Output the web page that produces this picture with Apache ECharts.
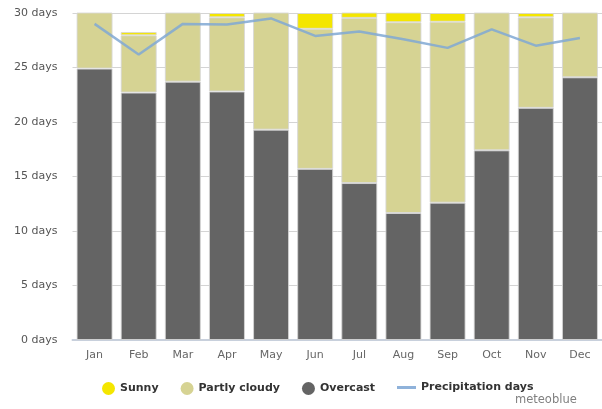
<!DOCTYPE html>
<html>
<head>
<meta charset="utf-8">
<script src="https://cdn.jsdelivr.net/npm/echarts@6/dist/echarts.min.js"></script>
<style>
  html, body { margin: 0; padding: 0; background: #fff; }
  #chart { width: 602px; height: 409px; }
</style>
</head>
<body>
<div id="chart"></div>
<script>
var months = ['Jan', 'Feb', 'Mar', 'Apr', 'May', 'Jun', 'Jul', 'Aug', 'Sep', 'Oct', 'Nov', 'Dec'];
var overcast = [24.9, 22.7, 23.7, 22.8, 19.3, 15.7, 14.4, 11.65, 12.6, 17.4, 21.3, 24.1];
var partlyCloudy = [6.0, 5.25, 7.2, 6.8, 11.6, 12.85, 15.15, 17.5, 16.6, 13.5, 8.3, 6.8];
var sunny = [0.1, 0.3, 0.1, 0.4, 0.1, 1.45, 1.45, 1.85, 0.8, 0.1, 0.4, 0.1];
var precipitation = [29.0, 26.2, 29.0, 28.95, 29.5, 27.9, 28.3, 27.6, 26.8, 28.5, 27.0, 27.7];
var yTicks = [0, 5, 10, 15, 20, 25, 30];

var chart = echarts.init(document.getElementById('chart'));

var font = 'DejaVu Sans';
var barBorder = { borderColor: 'rgba(215,215,215,0.85)', borderWidth: 1 };
var legendText = { fontFamily: font, fontSize: 11, fontWeight: 'bold', color: '#333' };

var option = {
  animation: false,
  textStyle: { fontFamily: font },
  grid: { left: 72.5, right: -11.5, top: 13, bottom: 69 },
  title: {
    text: 'meteoblue',
    left: 515,
    top: 394,
    padding: 0,
    textStyle: { fontFamily: font, fontSize: 11.5, fontWeight: 'normal', color: '#808080' }
  },
  legend: [{
    data: [
      { name: 'Sunny', icon: 'circle' },
      { name: 'Partly cloudy', icon: 'circle' },
      { name: 'Overcast', icon: 'circle' }
    ],
    left: 102,
    top: 382,
    padding: 0,
    itemWidth: 13,
    itemHeight: 13,
    itemGap: 22,
    itemStyle: { borderWidth: 0 },
    textStyle: legendText
  }, {
    data: [{ name: 'Precipitation days', icon: 'rect' }],
    left: 397,
    top: 382,
    padding: 0,
    itemWidth: 19,
    itemHeight: 3,
    itemStyle: { borderWidth: 0 },
    textStyle: legendText
  }],
  xAxis: {
    type: 'category',
    data: months,
    axisTick: { show: false },
    axisLine: { lineStyle: { color: '#c8d0dc', width: 2 } },
    axisLabel: { color: '#666', fontSize: 11, margin: 10 }
  },
  yAxis: {
    type: 'value',
    min: yTicks[0],
    max: yTicks[yTicks.length - 1],
    interval: 5,
    axisLine: { show: false },
    axisTick: { show: false },
    splitLine: { lineStyle: { color: '#d4d4d4', width: 1 } },
    axisLabel: { color: '#555', fontSize: 11, margin: 15, formatter: '{value} days' }
  },
  series: [{
    name: 'Overcast',
    type: 'bar',
    stack: 'days',
    barWidth: 36,
    data: overcast,
    itemStyle: Object.assign({ color: '#646464' }, barBorder)
  }, {
    name: 'Partly cloudy',
    type: 'bar',
    stack: 'days',
    barWidth: 36,
    data: partlyCloudy,
    itemStyle: Object.assign({ color: '#d6d393' }, barBorder)
  }, {
    name: 'Sunny',
    type: 'bar',
    stack: 'days',
    barWidth: 36,
    data: sunny,
    itemStyle: Object.assign({ color: '#f4e600' }, barBorder)
  }, {
    name: 'Precipitation days',
    type: 'line',
    data: precipitation,
    showSymbol: false,
    symbol: 'none',
    z: 5,
    lineStyle: { color: 'rgba(128,168,212,0.85)', width: 2.5 },
    itemStyle: { color: '#8fb2da' }
  }]
};

chart.setOption(option);
</script>
</body>
</html>
